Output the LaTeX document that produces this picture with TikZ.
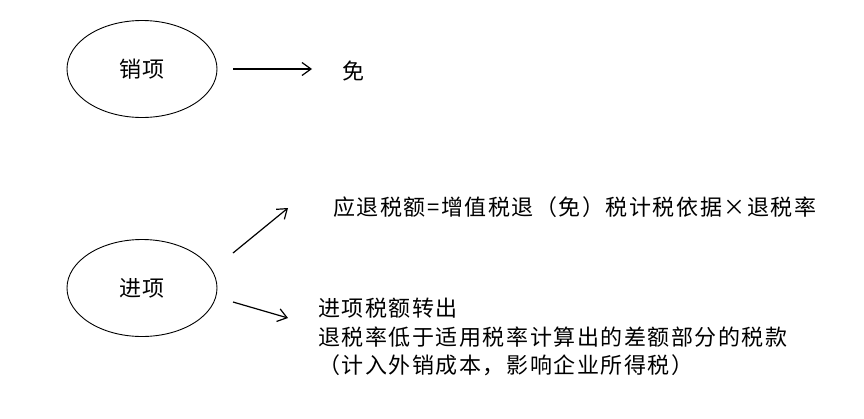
\documentclass[tikz,border=0pt]{standalone}
\usepackage{fontspec}
\newfontfamily\cjk[LetterSpace=7]{Noto Sans CJK SC}
\usetikzlibrary{shapes.geometric,arrows.meta}
\tikzset{
  oval/.style={ellipse,draw=black,line width=0.9pt,inner sep=0pt,minimum width=150pt,minimum height=97pt,font=\cjk\fontsize{22}{28}\selectfont,text height=18pt,text depth=2pt},
  lbl/.style={inner sep=0pt,anchor=west,font=\cjk\fontsize{22}{28}\selectfont,text height=18pt,text depth=2pt},
  arr/.style={draw=black,line width=1.2pt,-{Straight Barb[length=9pt,width=13pt,line width=1.2pt]}}
}
\begin{document}
\begin{tikzpicture}[x=1pt,y=-1pt]
\useasboundingbox (0,0) rectangle (864,418);
\fill[white] (0,0) rectangle (864,418);
\node[oval] (xiao) at (142,69) {销项};
\node[lbl] (mian) at (342,71) {免};
\node[oval] (jin) at (142,288) {进项};
\node[lbl] (tui) at (333,207) {应退税额=增值税退（免）税计税依据×退税率};
\node[lbl] (l1) at (318,308) {进项税额转出};
\node[lbl] (l2) at (318,337) {退税率低于适用税率计算出的差额部分的税款};
\node[lbl] (l3) at (318,365) {（计入外销成本，影响企业所得税）};
\coordinate (u0) at (233,253);
\coordinate (u1) at (288,208);
\coordinate (d0) at (233,302);
\coordinate (d1) at (288,318);
\draw[arr] ([xshift=16pt]xiao.east) -- ([xshift=-30pt,yshift=2pt]mian.west);
\draw[arr] (u0) -- (u1);
\draw[arr] (d0) -- (d1);
\end{tikzpicture}
\end{document}
